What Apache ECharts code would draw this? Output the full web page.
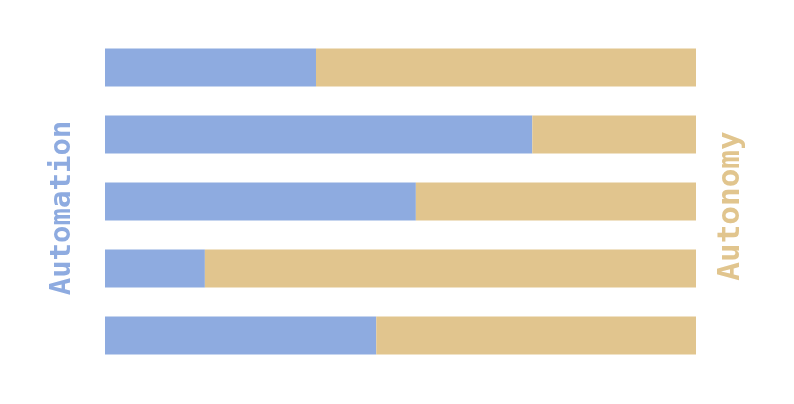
<!DOCTYPE html>
<html><head><meta charset="utf-8">
<script src="https://cdn.jsdelivr.net/npm/echarts@6/dist/echarts.min.js"></script>
<style>html,body{margin:0;padding:0;background:#fff}#c{width:794px;height:404px}</style>
</head><body><div id="c"></div>
<script>
const categories = ['A', 'B', 'C', 'D', 'E'];
const automation = [35.7, 72.3, 52.6, 16.9, 45.9];
const autonomy = [64.3, 27.7, 47.4, 83.1, 54.1];
const blue = '#8eabe0', tan = '#e1c58e';
const chart = echarts.init(document.getElementById('c'));
chart.setOption({
  animation: false,
  backgroundColor: '#fff',
  grid: {left: 105, right: 98, top: 34, bottom: 35},
  xAxis: {type: 'value', min: 0, max: 100, show: false},
  yAxis: {type: 'category', data: categories, inverse: true, show: false},
  graphic: [
    {type: 'text', rotation: Math.PI / 2, x: 62, y: 208,
     style: {text: 'Automation', fill: blue, font: 'bold 29px "DejaVu Sans Mono"', align: 'center', verticalAlign: 'middle'}},
    {type: 'text', rotation: Math.PI / 2, x: 731, y: 206,
     style: {text: 'Autonomy', fill: tan, font: 'bold 31px "DejaVu Sans Mono"', align: 'center', verticalAlign: 'middle'}}
  ],
  series: [
    {type: 'bar', stack: 's', data: automation, barCategoryGap: '43%', itemStyle: {color: blue}},
    {type: 'bar', stack: 's', data: autonomy, barCategoryGap: '43%', itemStyle: {color: tan}}
  ]
});
</script></body></html>
